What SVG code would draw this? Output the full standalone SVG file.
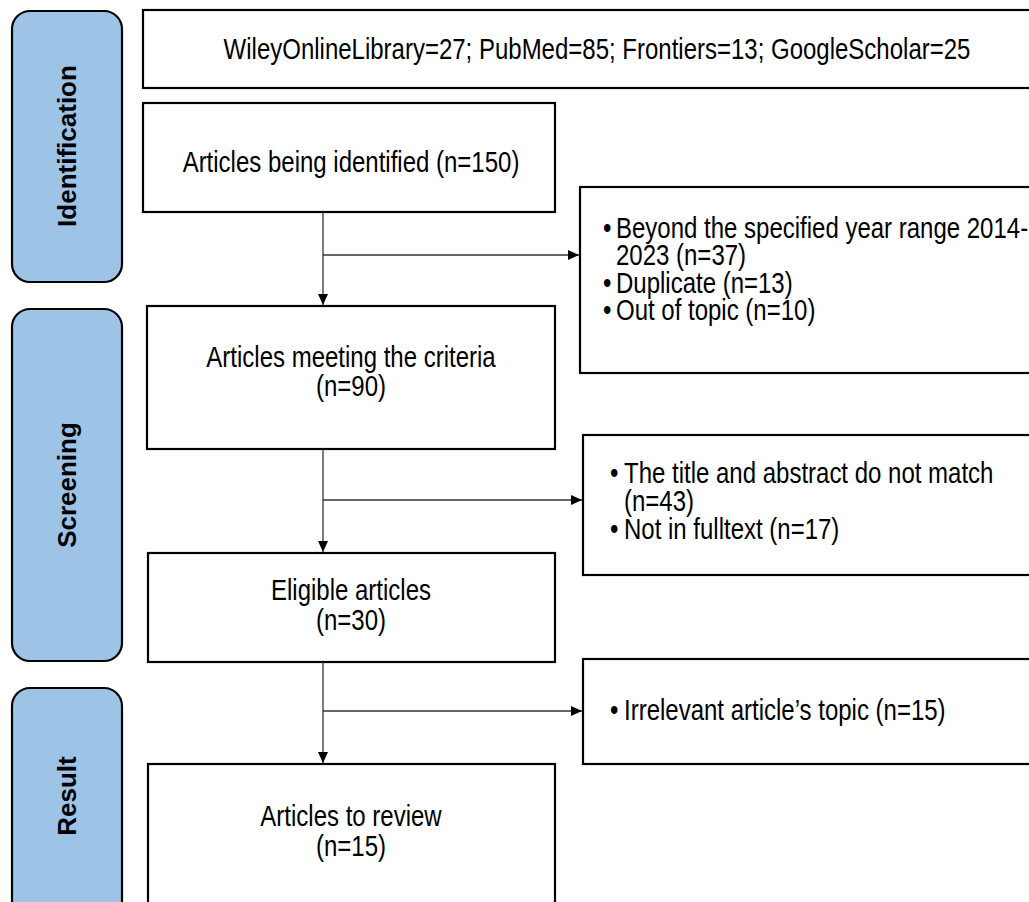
<svg xmlns="http://www.w3.org/2000/svg" width="1029" height="902" viewBox="0 0 1029 902">
<defs>
<style>
.box{fill:#fff;stroke:#000;stroke-width:2.2}
.pill{fill:#9DC3E6;stroke:#000;stroke-width:2.2}
.t{font-family:"Liberation Sans",Arial,sans-serif;font-size:30px;fill:#000}
.c{text-anchor:middle}
.lab{font-family:"Liberation Sans",Arial,sans-serif;font-size:26px;font-weight:bold;fill:#000;text-anchor:middle}
.con{fill:none;stroke:#333;stroke-width:1.3}
</style>
<marker id="arr" markerWidth="11" markerHeight="10" refX="11" refY="5" orient="auto" markerUnits="userSpaceOnUse">
<path d="M0,0 L11,5 L0,10 z" fill="#000"/>
</marker>
</defs>
<rect width="1029" height="902" fill="#fff"/>

<g id="phase-identification">
<rect class="pill" x="12" y="11" width="110" height="271" rx="18"/>
<text class="lab" transform="translate(76,146) rotate(-90)">Identification</text>
</g>
<g id="phase-screening">
<rect class="pill" x="12" y="309" width="110" height="352" rx="18"/>
<text class="lab" transform="translate(76,485) rotate(-90)">Screening</text>
</g>
<g id="phase-result">
<rect class="pill" x="12" y="688" width="110" height="240" rx="18"/>
<text class="lab" transform="translate(76,796) rotate(-90)">Result</text>
</g>

<g id="sources">
<rect class="box" x="143" y="10" width="900" height="78"/>
<text class="t c" transform="translate(597,59) scale(0.8,1)">WileyOnlineLibrary=27; PubMed=85; Frontiers=13; GoogleScholar=25</text>
</g>
<g id="identified">
<rect class="box" x="143" y="103" width="412" height="109"/>
<text class="t c" transform="translate(351,172) scale(0.8,1)">Articles being identified (n=150)</text>
</g>
<g id="excluded-1">
<rect class="box" x="580" y="187" width="470" height="186"/>
<text class="t" transform="translate(603,238) scale(0.8,1)">•</text>
<text class="t" transform="translate(616,238) scale(0.8,1)">Beyond the specified year range 2014-</text>
<text class="t" transform="translate(616,265) scale(0.8,1)">2023 (n=37)</text>
<text class="t" transform="translate(603,293) scale(0.8,1)">•</text>
<text class="t" transform="translate(616,293) scale(0.8,1)">Duplicate (n=13)</text>
<text class="t" transform="translate(603,320) scale(0.8,1)">•</text>
<text class="t" transform="translate(616,320) scale(0.8,1)">Out of topic (n=10)</text>
</g>
<g id="criteria">
<rect class="box" x="147" y="306" width="408" height="143"/>
<text class="t c" transform="translate(351,367) scale(0.8,1)">Articles meeting the criteria</text>
<text class="t c" transform="translate(351,396) scale(0.8,1)">(n=90)</text>
</g>
<g id="excluded-2">
<rect class="box" x="583" y="435" width="470" height="140"/>
<text class="t" transform="translate(610,483) scale(0.8,1)">•</text>
<text class="t" transform="translate(624,483) scale(0.8,1)">The title and abstract do not match</text>
<text class="t" transform="translate(624,511) scale(0.8,1)">(n=43)</text>
<text class="t" transform="translate(610,539) scale(0.8,1)">•</text>
<text class="t" transform="translate(624,539) scale(0.8,1)">Not in fulltext (n=17)</text>
</g>
<g id="eligible">
<rect class="box" x="148" y="553" width="407" height="109"/>
<text class="t c" transform="translate(351,600) scale(0.8,1)">Eligible articles</text>
<text class="t c" transform="translate(351,630) scale(0.8,1)">(n=30)</text>
</g>
<g id="excluded-3">
<rect class="box" x="583" y="659" width="470" height="105"/>
<text class="t" transform="translate(610,720) scale(0.8,1)">•</text>
<text class="t" transform="translate(624,720) scale(0.8,1)">Irrelevant article’s topic (n=15)</text>
</g>
<g id="review">
<rect class="box" x="148" y="764" width="407" height="160"/>
<text class="t c" transform="translate(351,826) scale(0.8,1)">Articles to review</text>
<text class="t c" transform="translate(351,856) scale(0.8,1)">(n=15)</text>
</g>

<g id="connectors">
<line class="con" x1="323" y1="212" x2="323" y2="305" marker-end="url(#arr)"/>
<line class="con" x1="323" y1="255" x2="579" y2="255" marker-end="url(#arr)"/>
<line class="con" x1="323" y1="449" x2="323" y2="552" marker-end="url(#arr)"/>
<line class="con" x1="323" y1="500" x2="582" y2="500" marker-end="url(#arr)"/>
<line class="con" x1="323" y1="662" x2="323" y2="763" marker-end="url(#arr)"/>
<line class="con" x1="323" y1="711" x2="582" y2="711" marker-end="url(#arr)"/>
</g>
</svg>
